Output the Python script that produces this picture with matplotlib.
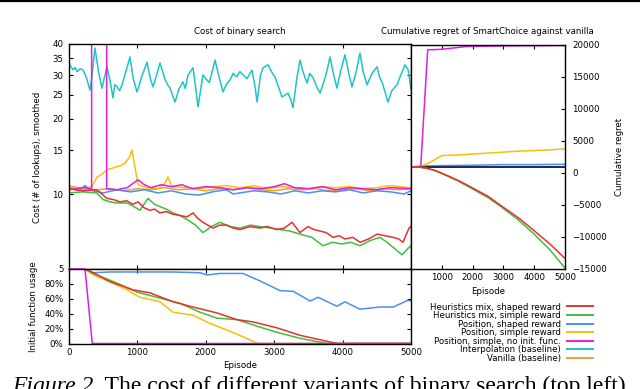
import numpy as np
import matplotlib.pyplot as plt
from matplotlib.lines import Line2D

W, H = 640, 389

# ---- data ----
# top-left: cost (# of lookups), smoothed
ep_interp = [0, 30, 60, 90, 117, 160, 205, 240, 260, 307, 340, 380, 410, 430, 482, 520, 555, 600, 643, 670, 700, 740,
             775, 830, 860, 892, 940, 994, 1030, 1060, 1100, 1140, 1190, 1228, 1280, 1330, 1370, 1400, 1440, 1477,
             1550, 1610, 1667, 1700, 1740, 1813, 1850, 1886, 1959, 2000, 2050, 2100, 2135, 2200, 2252, 2300,
             2354, 2400, 2450, 2500, 2544, 2600, 2675, 2720, 2749, 2800, 2836, 2909, 2960, 3012, 3060, 3114, 3202,
             3240, 3275, 3330, 3377, 3420, 3480, 3520, 3567, 3620, 3670, 3740, 3780, 3816, 3870, 3918, 3970, 4035,
             4090, 4137, 4200, 4254, 4300, 4357, 4430, 4503, 4540, 4580, 4664, 4720, 4795, 4850, 4912, 4960, 5000]
cost_interp = [33.6, 32.4, 31.5, 32.2, 31.0, 31.8, 31.5, 30.0, 29.0, 26.1, 30.5, 38.5, 34.0, 31.0, 26.6, 29.5, 32.4,
               28.5, 24.3, 27.5, 27.0, 26.0, 27.4, 31.0, 33.0, 35.5, 29.0, 25.7, 27.5, 29.5, 31.5, 33.8, 29.0, 26.9,
               30.0, 33.6, 31.0, 29.0, 27.5, 26.6, 23.4, 26.5, 28.2, 26.5, 30.0, 32.1, 27.0, 22.4, 30.1, 29.0, 28.0,
               31.5, 34.5, 29.0, 25.7, 27.5, 28.7, 30.5, 29.5, 31.0, 30.1, 29.0, 31.4, 27.0, 23.4, 30.0, 32.1, 33.0,
               31.0, 29.5, 27.0, 24.5, 25.4, 24.0, 22.2, 29.0, 34.5, 31.0, 27.9, 30.5, 29.3, 27.0, 25.4, 29.0, 32.0,
               35.5, 30.0, 26.6, 31.0, 36.2, 30.5, 26.9, 31.0, 36.8, 31.0, 27.4, 30.5, 32.4, 29.5, 28.0, 23.4, 26.0,
               27.4, 30.0, 33.0, 31.5, 26.3]

ep_vanilla = [0, 200, 400, 600, 800, 1000, 1200, 1400, 1600, 1800, 2000, 2200, 2400, 2600, 2800, 3000, 3200, 3400,
              3600, 3800, 4000, 4200, 4400, 4600, 4800, 5000]
cost_vanilla = [10.8, 10.5, 10.4, 10.5, 10.3, 10.5, 10.4, 10.6, 10.4, 10.5, 10.3, 10.5, 10.4, 10.6, 10.4, 10.3, 10.5,
                10.4, 10.5, 10.3, 10.4, 10.5, 10.3, 10.5, 10.4, 10.5]

ep_pos_shaped = [0, 150, 230, 350, 500, 700, 900, 1100, 1300, 1500, 1700, 1900, 2100, 2300, 2400, 2500, 2700, 2900,
                 3100, 3300, 3500, 3700, 3900, 4100, 4300, 4500, 4700, 4900, 5000]
cost_pos_shaped = [10.6, 10.3, 10.8, 10.3, 10.1, 10.4, 10.2, 10.4, 10.1, 10.3, 10.0, 9.9, 10.2, 10.4, 10.0, 10.1,
                   10.3, 10.2, 10.0, 10.3, 10.1, 10.3, 10.2, 10.4, 10.1, 10.3, 10.2, 10.0, 10.3]

ep_pos_noinit = [0, 200, 331, 331, 551, 551, 700, 850, 1009, 1100, 1200, 1350, 1500, 1650, 1800, 2000, 2200, 2400,
                 2600, 2800, 3000, 3150, 3300, 3500, 3700, 3900, 4100, 4300, 4500, 4700, 5000]
cost_pos_noinit = [10.4, 10.6, 10.5, 85, 85, 10.5, 10.4, 10.6, 11.4, 10.9, 10.6, 10.9, 10.7, 10.9, 10.5, 10.7, 10.6,
                   10.4, 10.6, 10.5, 10.7, 11.0, 10.6, 10.5, 10.7, 10.4, 10.6, 10.5, 10.4, 10.6, 10.5]

ep_pos_simple = [0, 200, 336, 410, 480, 555, 672, 760, 819, 880, 921, 960, 1009, 1140, 1300, 1400, 1447, 1500, 1550,
                 1700, 1900, 2100, 2300, 2500, 2700, 2900, 3100, 3300, 3500, 3700, 3900, 4100, 4300, 4500, 4700, 5000]
cost_pos_simple = [10.6, 10.5, 10.7, 11.7, 12.0, 12.5, 12.8, 13.0, 13.3, 14.0, 15.0, 13.0, 10.9, 10.6, 10.5, 11.0,
                   11.7, 10.8, 10.7, 10.6, 10.5, 10.7, 10.8, 10.6, 10.8, 10.5, 10.7, 10.6, 10.5, 10.7, 10.6, 10.7,
                   10.5, 10.6, 10.8, 10.6]

ep_mix_shaped = [0, 200, 405, 480, 555, 650, 745, 840, 936, 1009, 1100, 1184, 1250, 1330, 1420, 1520, 1620, 1725,
                 1813, 1880, 1959, 2105, 2200, 2310, 2400, 2500, 2650, 2792, 2900, 3041, 3150, 3260, 3377, 3494,
                 3580, 3670, 3760, 3860, 3950, 4035, 4150, 4254, 4380, 4503, 4620, 4737, 4820, 4883, 4971, 5000]
cost_mix_shaped = [10.5, 10.3, 10.4, 10.0, 9.6, 9.5, 9.3, 9.4, 9.1, 9.3, 8.8, 8.6, 8.7, 8.4, 8.5, 8.3, 8.2, 8.1,
                   8.4, 8.0, 7.7, 7.3, 7.5, 7.5, 7.3, 7.2, 7.4, 7.3, 7.4, 7.2, 7.3, 7.7, 7.0, 7.4, 7.2, 7.1, 7.0,
                   6.7, 6.8, 6.6, 6.7, 6.4, 6.6, 6.9, 6.8, 6.7, 6.6, 6.4, 7.3, 7.4]

ep_mix_simple = [0, 200, 405, 497, 600, 702, 850, 950, 1038, 1155, 1250, 1330, 1420, 1520, 1620, 1725, 1850, 1959,
                 2080, 2208, 2350, 2500, 2650, 2792, 2950, 3085, 3230, 3377, 3550, 3714, 3850, 3988, 4120, 4254,
                 4400, 4547, 4650, 4742, 4868, 4971, 5000]
cost_mix_simple = [10.1, 10.2, 10.1, 9.5, 9.3, 9.2, 9.2, 8.9, 8.6, 9.6, 9.1, 8.9, 8.7, 8.4, 8.2, 7.9, 7.5, 7.0,
                   7.4, 7.7, 7.4, 7.3, 7.5, 7.4, 7.3, 7.2, 7.1, 6.9, 6.7, 6.2, 6.4, 6.3, 6.4, 6.2, 6.5, 6.7, 6.4,
                   6.1, 5.7, 6.1, 6.2]

# bottom-left: initial function usage (%)
ep_use_mix_shaped = [0, 234, 356, 600, 936, 1184, 1520, 1813, 2164, 2456, 2690, 3041, 3377, 3670, 3918, 5000]
use_mix_shaped = [100, 100, 95, 83, 72, 68, 56, 49, 41, 32, 29, 21, 11, 5, 0, 0]
ep_use_mix_simple = [0, 234, 356, 702, 994, 1330, 1623, 1915, 2164, 2456, 2792, 3041, 3377, 3772, 5000]
use_mix_simple = [100, 100, 94, 81, 69, 61, 54, 42, 34, 32, 22, 15, 7, 0, 0]
ep_use_pos_shaped = [0, 234, 356, 600, 1000, 1500, 1915, 2018, 2200, 2544, 2792, 3085, 3280, 3524, 3641, 3918, 4035,
                     4254, 4547, 4742, 4956, 5000]
use_pos_shaped = [100, 100, 95, 96, 96, 96, 95, 92, 94, 94, 84, 71, 70, 57, 62, 50, 56, 46, 49, 49, 58, 57]
ep_use_pos_simple = [0, 234, 356, 643, 848, 1038, 1330, 1520, 1813, 2061, 2310, 2544, 2763, 5000]
use_pos_simple = [100, 100, 92, 81, 72, 62, 56, 42, 38, 27, 18, 9, 0, 0]
ep_use_pos_noinit = [0, 234, 340, 5000]
use_pos_noinit = [100, 100, 0, 0]

# right: cumulative regret against vanilla
ep_reg_base = [0, 5000]
reg_base = [900, 900]
ep_reg_mix_shaped = [0, 250, 500, 750, 1000, 1250, 1500, 1750, 2000, 2500, 2890, 3500, 3970, 4500, 5000]
reg_mix_shaped = [900, 880, 700, 400, -100, -600, -1150, -1750, -2400, -3700, -5050, -7100, -8950, -11100, -13400]
ep_reg_mix_simple = [0, 250, 500, 750, 1000, 1250, 1500, 1750, 2000, 2500, 2890, 3500, 3970, 4500, 5000]
reg_mix_simple = [900, 870, 680, 350, -150, -700, -1250, -1900, -2550, -3900, -5200, -7450, -9470, -12000, -14900]
ep_reg_pos_shaped = [0, 300, 1000, 2000, 3000, 4000, 5000]
reg_pos_shaped = [900, 1000, 1100, 1150, 1250, 1250, 1300]
ep_reg_pos_simple = [0, 200, 500, 800, 1000, 1500, 2000, 2500, 3000, 3500, 4000, 4500, 5000]
reg_pos_simple = [900, 900, 1300, 2100, 2650, 2750, 2900, 3050, 3200, 3350, 3450, 3550, 3700]
ep_reg_pos_noinit = [0, 315, 542, 1000, 1808, 3000, 4000, 5000]
reg_pos_noinit = [900, 900, 19170, 19250, 19690, 19780, 19820, 19850]

labels = ["Heuristics mix, shaped reward", "Heuristics mix, simple reward", "Position, shaped reward",
          "Position, simple reward", "Position, simple, no init. func.", "Interpolation (baseline)",
          "Vanilla (baseline)"]
colors = ["#e8302c", "#3fbf3f", "#4b8ff0", "#fbbf05", "#e01ee0", "#1fc4c4", "#e9a23b"]

plt.rcParams['font.family'] = 'DejaVu Sans'
fs = 6.2
lw = 1.1

fig = plt.figure(figsize=(W / 100, H / 100), dpi=100)


def box(l, t, r, b):
    return [l / W, 1 - b / H, (r - l) / W, (b - t) / H]


ax_cost = fig.add_axes(box(69, 44, 411, 269))
ax_use = fig.add_axes(box(69, 269, 411, 343.5))
ax_reg = fig.add_axes(box(411, 44.5, 565, 268.7))

# cost panel
ax_cost.plot(ep_interp, cost_interp, color=colors[5], lw=lw)
ax_cost.plot(ep_vanilla, cost_vanilla, color=colors[6], lw=lw)
ax_cost.plot(ep_pos_shaped, cost_pos_shaped, color=colors[2], lw=lw)
ax_cost.plot(ep_pos_simple, cost_pos_simple, color=colors[3], lw=lw)
ax_cost.plot(ep_pos_noinit, cost_pos_noinit, color=colors[4], lw=lw)
ax_cost.plot(ep_mix_simple, cost_mix_simple, color=colors[1], lw=lw)
ax_cost.plot(ep_mix_shaped, cost_mix_shaped, color=colors[0], lw=lw)
ax_cost.set_yscale('log')
ax_cost.set_ylim(5, 40)
ax_cost.set_xlim(0, 5000)
yt = [5, 10, 15, 20, 25, 30, 35, 40]
ax_cost.yaxis.set_minor_locator(plt.NullLocator())
ax_cost.set_yticks(yt)
ax_cost.set_yticklabels([str(v) for v in yt])
ax_cost.set_xticks([1000, 2000, 3000, 4000])
ax_cost.tick_params(labelbottom=False)

# usage panel
ax_use.plot(ep_use_pos_shaped, use_pos_shaped, color=colors[2], lw=lw)
ax_use.plot(ep_use_pos_simple, use_pos_simple, color=colors[3], lw=lw)
ax_use.plot(ep_use_mix_simple, use_mix_simple, color=colors[1], lw=lw)
ax_use.plot(ep_use_mix_shaped, use_mix_shaped, color=colors[0], lw=lw)
ax_use.plot(ep_use_pos_noinit, use_pos_noinit, color=colors[4], lw=lw, clip_on=False)
ax_use.set_xlim(0, 5000)
ax_use.set_ylim(0, 100)
ax_use.set_yticks([0, 20, 40, 60, 80, 100])
ax_use.set_yticklabels(["0%", "20%", "40%", "60%", "80%", ""])
ax_use.set_xticks([0, 1000, 2000, 3000, 4000, 5000])

# regret panel
ax_reg.plot(ep_reg_pos_shaped, reg_pos_shaped, color=colors[2], lw=lw)
ax_reg.plot(ep_reg_base, reg_base, color="#1c2a5a", lw=1.4)
ax_reg.plot(ep_reg_pos_simple, reg_pos_simple, color=colors[3], lw=lw)
ax_reg.plot(ep_reg_pos_noinit, reg_pos_noinit, color=colors[4], lw=lw)
ax_reg.plot(ep_reg_mix_simple, reg_mix_simple, color=colors[1], lw=lw)
ax_reg.plot(ep_reg_mix_shaped, reg_mix_shaped, color=colors[0], lw=lw)
ax_reg.set_xlim(0, 5000)
ax_reg.set_ylim(-15000, 20000)
ax_reg.set_xticks([1000, 2000, 3000, 4000, 5000])
ax_reg.set_yticks(range(-15000, 20001, 5000))
ax_reg.yaxis.tick_right()

for ax in (ax_cost, ax_use, ax_reg):
    for s in ax.spines.values():
        s.set_linewidth(1.0)
    ax.tick_params(direction='in', length=3, width=0.8, labelsize=fs, pad=3,
                   top=True, right=True, left=ax is not ax_reg)
ax_cost.tick_params(axis='y', pad=4)
ax_use.tick_params(axis='y', pad=4)
ax_reg.tick_params(axis='y', pad=5, labelleft=False, labelright=True)

# texts
fig.text(240 / W, 1 - 31.5 / H, "Cost of binary search", ha='center', va='center', fontsize=fs)
fig.text(487.5 / W, 1 - 31.5 / H, "Cumulative regret of SmartChoice against vanilla", ha='center', va='center',
         fontsize=fs)
fig.text(38 / W, 1 - 157 / H, "Cost (# of lookups), smoothed", rotation=90, ha='center', va='center', fontsize=fs)
fig.text(34 / W, 1 - 306.5 / H, "Initial function usage", rotation=90, ha='center', va='center', fontsize=fs)
fig.text(620 / W, 1 - 157 / H, "Cumulative regret", rotation=90, ha='center', va='center', fontsize=fs)
fig.text(240 / W, 1 - 366 / H, "Episode", ha='center', va='center', fontsize=fs)
fig.text(488 / W, 1 - 291 / H, "Episode", ha='center', va='center', fontsize=fs)

handles = [Line2D([], [], color=c, lw=1.4) for c in colors]
fig.legend(handles, labels, loc='upper right', bbox_to_anchor=(593 / W, 1 - 302.5 / H), markerfirst=False,
           frameon=False, fontsize=fs, handlelength=3.0, handletextpad=0.7, labelspacing=-0.05,
           borderpad=0, borderaxespad=0)

# caption (cut off by the screenshot, as in the source page)
cap = fig.text(12 / W, -3 / H, "Figure 2.", fontsize=17, family='Liberation Serif', style='italic',
               va='baseline', ha='left')
ax_cost.annotate(" The cost of different variants of binary search (top left)", xy=(1, 0), xycoords=cap,
                 va='bottom', ha='left', fontsize=17, family='Liberation Serif', annotation_clip=False)

# page rule at the top
fig.add_artist(Line2D([0, 1], [1 - 1 / H, 1 - 1 / H], color='black', lw=1.6, transform=fig.transFigure))

fig.savefig("out.png", dpi=100)
